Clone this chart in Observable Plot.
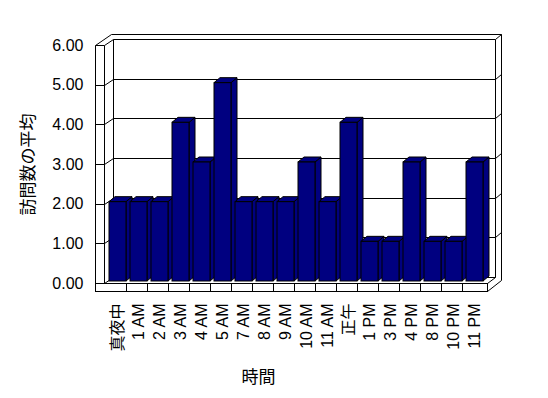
<!DOCTYPE html>
<html>
<head>
<meta charset="utf-8">
<script src="https://cdn.jsdelivr.net/npm/d3@7"></script>
<script src="https://cdn.jsdelivr.net/npm/@observablehq/plot@0.6"></script>
<style>
  html, body { margin: 0; padding: 0; background: #ffffff; }
</style>
</head>
<body>
<div id="chart"></div>
<script>
// ---- data ----
const hours = ["真夜中", "1 AM", "2 AM", "3 AM", "4 AM", "5 AM", "7 AM", "8 AM", "9 AM", "10 AM", "11 AM", "正午", "1 PM", "3 PM", "4 PM", "8 PM", "10 PM", "11 PM"];
const visits = [2, 2, 2, 4, 3, 5, 2, 2, 2, 3, 2, 4, 1, 1, 3, 1, 1, 3];
const yTicks = [0, 1, 2, 3, 4, 5, 6];
const xTitle = "時間";
const yTitle = "訪問数の平均";

const data = hours.map((h, i) => ({hour: h, value: visits[i]}));

const NAVY = "#000080";
const BAR_DX = 6, BAR_DY = -5;     // bar depth
const svgNS = "http://www.w3.org/2000/svg";

function el(tag, attrs) {
  const e = document.createElementNS(svgNS, tag);
  for (const k in attrs) e.setAttribute(k, attrs[k]);
  return e;
}
function line(g, x1, y1, x2, y2) {
  g.appendChild(el("line", {x1, y1, x2, y2}));
}

// 3D walls, floor and gridlines, positioned from the plot's scales
function frame3d(index, {x, y}) {
  const g = el("g", {fill: "none", stroke: "black", "stroke-width": 1, transform: "translate(0.5,0.5)"});
  const [r0, r1] = x.range();
  const step = x.step();
  const vMax = d3.max(yTicks);
  const top = Math.round(y(vMax)), base = Math.round(y(0));
  const back = v => Math.round(y(v)) - 6;
  const Lx = Math.round(r0 - 10), Lw = Math.round(r0 - 1), BL = Math.round(r0 + 8);
  const BR = Math.round(r1 + 8), OR = Math.round(r1 + 14);
  const outerTop = top - 11;

  // back wall fill (white)
  g.appendChild(el("rect", {x: BL, y: back(vMax), width: BR - BL, height: back(0) - back(vMax), fill: "white", stroke: "none"}));

  // left wall front face
  line(g, Lx, top, Lx, base + 8);
  line(g, Lw, top, Lw, base);
  line(g, Lx, top, Lw, top);
  // top edges
  line(g, Lx, top, BL - 2, outerTop);
  line(g, Lw, top, BL, back(vMax));
  line(g, BL - 2, outerTop, OR, outerTop);
  line(g, BL, back(vMax), BR, back(vMax));
  line(g, BR, back(vMax), OR, outerTop);
  // verticals of the back wall
  line(g, BL, back(vMax), BL, back(0));
  line(g, BR, back(vMax), BR, back(0));
  line(g, OR, outerTop, OR, back(0) + 3);

  // gridlines
  for (const v of yTicks) {
    if (v === vMax) continue;
    const yf = Math.round(y(v)), yb = back(v);
    if (v > 0) line(g, Lx, yf, Lw, yf);
    line(g, Lw, yf, BL, yb);
    line(g, BL, yb, BR, yb);
    if (v > 0) line(g, BR, yb, OR, yb - 5);
  }

  // floor slab
  g.appendChild(el("rect", {x: Lx, y: base, width: Math.round(r1) - Lx, height: 8, fill: "white"}));
  for (let i = 1; i < hours.length; i++) {
    const xs = Math.round(r0 + i * step);
    line(g, xs, base, xs, base + 8);
  }
  line(g, Math.round(r1), base, BR, back(0));
  line(g, Math.round(r1), base + 8, OR, back(0) + 3);
  return g;
}

// side and top faces of every bar
function barDepth(index, {x, y}) {
  const g = el("g", {fill: NAVY, stroke: "black", "stroke-width": 1, "stroke-linejoin": "miter"});
  const w = x.bandwidth();
  const b = y(0) - 2;
  for (const d of data) {
    const x0 = x(d.hour), x1 = x0 + w, t = y(d.value) - 2;
    const side = [[x1, b], [x1 + BAR_DX, b + BAR_DY], [x1 + BAR_DX, t + BAR_DY], [x1, t]];
    const topF = [[x0, t], [x0 + BAR_DX, t + BAR_DY], [x1 + BAR_DX, t + BAR_DY], [x1, t]];
    g.appendChild(el("polygon", {points: side.map(p => p.join(",")).join(" ")}));
    g.appendChild(el("polygon", {points: topF.map(p => p.join(",")).join(" ")}));
  }
  return g;
}

const chart = Plot.plot({
  width: 548,
  height: 398,
  marginTop: 45,
  marginBottom: 115,
  marginLeft: 105,
  marginRight: 61,
  style: {
    fontSize: "16px",
    fontFamily: "'Liberation Sans', 'Noto Sans CJK JP', sans-serif",
    background: "white",
    color: "black"
  },
  x: {type: "band", domain: hours, paddingInner: 0.18, paddingOuter: 0.09},
  y: {domain: [0, 6]},
  marks: [
    frame3d,
    barDepth,
    Plot.barY(data, {x: "hour", y: "value", fill: NAVY, stroke: "black", strokeWidth: 1, dy: -2}),
    Plot.axisY({ticks: yTicks, tickFormat: d => d.toFixed(2), tickSize: 0, tickPadding: 22, label: null}),
    Plot.axisX({tickRotate: -90, tickSize: 0, tickPadding: 20, label: null}),
    Plot.text([yTitle], {frameAnchor: "left", rotate: -90, dx: -77, textAnchor: "middle", lineAnchor: "middle", fontSize: 17, text: d => d}),
    Plot.text([xTitle], {frameAnchor: "bottom", dx: -38, dy: 94, textAnchor: "middle", lineAnchor: "middle", fontSize: 17, text: d => d})
  ]
});
document.getElementById("chart").appendChild(chart);
</script>
</body>
</html>
